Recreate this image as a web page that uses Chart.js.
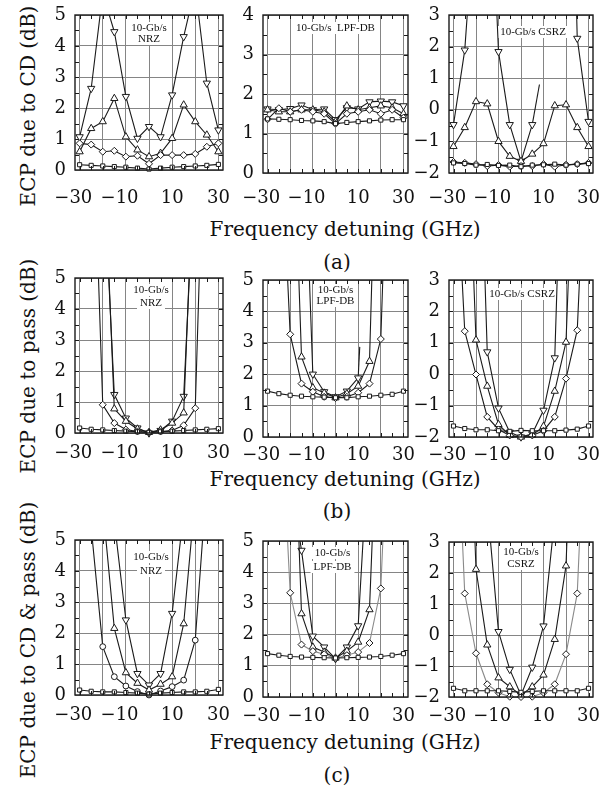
<!DOCTYPE html>
<html>
<head>
<meta charset="utf-8">
<script src="https://cdn.jsdelivr.net/npm/chart.js"></script>
<style>
  body { margin: 0; background: #fff; }
  #fig { position: relative; width: 616px; height: 800px; overflow: hidden; font-family: "DejaVu Serif", serif; color: #111; }
  #fig canvas { position: absolute; }
  .lab { position: absolute; white-space: nowrap; font-size: 20px; transform: translate(-50%, -50%); }
  .ylab { position: absolute; white-space: nowrap; font-size: 20px; transform: translate(-50%, -50%) rotate(-90deg); }
</style>
</head>
<body>
<div id="fig">
  <div class="ylab" style="left:28px;top:106px">ECP due to CD (dB)</div>
  <div class="ylab" style="left:28px;top:366px">ECP due to pass (dB)</div>
  <div class="ylab" style="left:28px;top:640px">ECP due to CD &amp; pass (dB)</div>
  <div class="lab" style="left:345px;top:229px">Frequency detuning (GHz)</div>
  <div class="lab" style="left:337px;top:262px">(a)</div>
  <div class="lab" style="left:345px;top:479px">Frequency detuning (GHz)</div>
  <div class="lab" style="left:337px;top:511px">(b)</div>
  <div class="lab" style="left:345px;top:742px">Frequency detuning (GHz)</div>
  <div class="lab" style="left:337px;top:775px">(c)</div>
</div>

<script>
  const freq = [-30, -25, -20, -15, -10, -5, 0, 5, 10, 15, 20, 25, 30];

  // (a) ECP due to CD
  const a1Sq = [0.17, 0.15, 0.13, 0.11, 0.09, 0.06, 0.03, 0.06, 0.09, 0.11, 0.13, 0.15, 0.18];
  const a1Di = [0.86, 0.82, 0.59, 0.62, 0.43, 0.46, 0.2, 0.48, 0.48, 0.48, 0.52, 0.75, 0.86];
  const a1Up = [0.59, 1.34, 1.56, 2.31, 1.07, 0.65, 0.43, 0.54, 1.02, 2.1, 1.56, 1.13, 0.59];
  const a1Dn = [1.07, 2.63, 5.7, 4.46, 2.37, 1.02, 1.4, 1.07, 2.42, 4.3, 5.9, 2.8, 1.29];

  const a2Sq = [1.37, 1.36, 1.35, 1.33, 1.32, 1.3, 1.25, 1.28, 1.3, 1.32, 1.34, 1.35, 1.35];
  const a2Di = [1.36, 1.64, 1.55, 1.6, 1.55, 1.5, 1.25, 1.5, 1.55, 1.6, 1.5, 1.6, 1.4];
  const a2Up = [1.6, 1.55, 1.55, 1.6, 1.6, 1.55, 1.3, 1.7, 1.6, 1.65, 1.7, 1.65, 1.5];
  const a2Dn = [1.62, 1.6, 1.63, 1.72, 1.6, 1.62, 1.35, 1.65, 1.62, 1.8, 1.82, 1.8, 1.7];

  const a3Sq = [-1.68, -1.7, -1.75, -1.73, -1.76, -1.75, -1.8, -1.75, -1.74, -1.72, -1.75, -1.72, -1.7];
  const a3Di = [-1.65, -1.68, -1.72, -1.78, -1.75, -1.8, -1.78, -1.78, -1.72, -1.8, -1.74, -1.72, -1.68];
  const a3Up = [-1.16, -0.56, 0.26, 0.19, -1.0, -1.47, -1.63, -1.4, -1.07, 0.13, 0.16, -0.56, -1.16];
  const a3Dn = [-0.47, 1.89, 6.9, 10.1, 1.84, -0.47, -1.63, -0.47, null, null, 16, 2.26, -0.37];
  const a3StubX = [5, 8.2];
  const a3StubY = [-0.47, 0.8];

  // (b) ECP due to pass
  const b1Sq = [0.16, 0.12, 0.1, 0.08, 0.06, 0.04, 0.02, 0.04, 0.06, 0.08, 0.1, 0.12, 0.14];
  const b1Di = [null, 12, 0.91, 0.32, 0.11, 0.05, 0.02, 0.05, 0.08, 0.25, 0.8, 13, null];
  const b1Up = [null, null, 10, 0.78, 0.38, 0.13, 0.02, 0.1, 0.32, 0.65, 10, null, null];
  const b1Dn = [null, null, 9, 1.24, 0.48, 0.16, 0.0, 0.08, 0.38, 1.18, 9, null, null];

  const b2Sq = [1.46, 1.38, 1.33, 1.3, 1.28, 1.27, 1.25, 1.25, 1.28, 1.3, 1.33, 1.36, 1.46];
  const b2Di = [null, 11, 3.27, 1.7, 1.44, 1.28, 1.24, 1.28, 1.41, 1.7, 3.12, 14, null];
  const b2Up = [null, null, 13, 2.55, 1.57, 1.4, 1.25, 1.38, 1.62, 2.41, 15, null, null];
  const b2Dn = [null, null, null, 12, 2.0, 1.44, 1.28, 1.46, 1.88, null, null, null, null];
  const b2StubX = [10, 10.7];
  const b2StubY = [1.88, 2.87];

  const b3Sq = [-1.65, -1.73, -1.77, -1.77, -1.8, -1.82, -1.79, -1.8, -1.8, -1.8, -1.78, -1.75, -1.65];
  const b3Di = [8.4, 1.37, -0.01, -1.36, -1.76, -1.95, -2.0, -1.95, -1.8, -1.36, -0.14, 1.4, 9.4];
  const b3Up = [null, 10.6, 1.09, -0.38, -1.6, -1.95, -2.0, -1.94, -1.66, -0.54, 1.02, 10.5, null];
  const b3Dn = [null, null, 12, 0.71, -1.08, -1.85, -2.0, -1.9, -1.15, 0.52, 12, null, null];

  // (c) ECP due to CD & pass
  const c1Sq = [0.16, 0.12, 0.1, 0.1, 0.08, 0.06, 0.03, 0.06, 0.08, 0.1, 0.1, 0.12, 0.18];
  const c1Ci = [null, 5.4, 1.56, 0.59, 0.29, 0.11, 0.0, 0.13, 0.27, 0.48, 1.77, 6.9, null];
  const c1Up = [null, null, 6.1, 2.15, 0.72, 0.38, 0.16, 0.35, 0.59, 2.3, 6.4, null, null];
  const c1Dn = [null, null, null, 5.6, 2.42, 0.69, 0.32, 0.69, 2.63, 5.9, null, null, null];

  const c2Sq = [1.39, 1.34, 1.3, 1.28, 1.27, 1.26, 1.25, 1.26, 1.27, 1.28, 1.3, 1.34, 1.39];
  const c2Di = [null, 10.6, 3.34, 1.68, 1.47, 1.37, 1.23, 1.34, 1.44, 1.73, 3.48, 12, null];
  const c2Up = [null, null, 12.8, 2.67, 1.6, 1.44, 1.25, 1.47, 1.76, 2.8, 12, null, null];
  const c2Dn = [null, null, 7, 4.7, 1.95, 1.6, 1.23, 1.6, 2.28, 8.6, null, null, null];

  const c3Sq = [-1.72, -1.8, -1.8, -1.8, -1.8, -1.82, -1.85, -1.82, -1.8, -1.8, -1.8, -1.8, -1.72];
  const c3Di = [9.6, 1.34, -0.59, -1.59, -1.86, -1.99, -2.0, -1.99, -1.86, -1.59, -0.62, 1.34, 9.6];
  const c3Up = [null, 12, 2.12, -0.32, -1.38, -1.67, -1.94, -1.67, -1.29, -0.14, 2.23, 12, null];
  const c3Dn = [null, null, null, 4.2, 0.11, -1.11, -1.94, -1.04, 0.29, 3.8, null, null, null];

  // canvas margins around each plot area
  const PL = 50, PR = 16, PT = 12, PB = 46;
  const INK = '#1a1a1a';

  const markers = {
    sq: { pointStyle: 'rect', pointRadius: 2.9 },
    di: { pointStyle: 'rectRot', pointRadius: 3.5 },
    ci: { pointStyle: 'circle', pointRadius: 2.9 },
    up: { pointStyle: 'triangle', pointRadius: 4.2 },
    dn: { pointStyle: 'triangle', pointRadius: 4.2, pointRotation: 180 },
  };

  function series(vals, kind, line) {
    return Object.assign({
      data: vals.map((v, i) => ({ x: freq[i], y: v })),
      borderColor: line || INK,
      borderWidth: 1.1,
      pointBackgroundColor: '#fff',
      pointBorderColor: INK,
      pointBorderWidth: 1,
      spanGaps: false,
      clip: { left: 6, right: 6, top: 0, bottom: 6 },
    }, markers[kind]);
  }

  function stub(xs, ys) {
    return {
      data: xs.map((x, i) => ({ x: x, y: ys[i] })),
      borderColor: INK,
      borderWidth: 1.1,
      pointRadius: 0,
      clip: 0,
    };
  }

  const panels = [
    { box: [75, 15, 148, 155], y: [0, 5], xp: 18, sets: [series(a1Sq, 'sq'), series(a1Di, 'di'), series(a1Up, 'up'), series(a1Dn, 'dn')],
      tag: ['10-Gb/s', 'NRZ'], tx: 0, ty: [13, 24] },
    { box: [263, 15, 145, 158], y: [0, 4], xp: 15, sets: [series(a2Sq, 'sq'), series(a2Di, 'di'), series(a2Up, 'up'), series(a2Dn, 'dn')],
      tag: ['10-Gb/s  LPF-DB'], tx: 0, ty: [13] },
    { box: [449, 15, 144, 158], y: [-2, 3], xp: 15, sets: [series(a3Sq, 'sq'), series(a3Di, 'di'), series(a3Up, 'up'), series(a3Dn, 'dn'), stub(a3StubX, a3StubY)],
      tag: ['10-Gb/s CSRZ'], tx: 12, ty: [17] },
    { box: [75, 278, 148, 155], y: [0, 5], xp: 10, sets: [series(b1Sq, 'sq'), series(b1Di, 'di'), series(b1Up, 'up'), series(b1Dn, 'dn')],
      tag: ['10-Gb/s', 'NRZ'], tx: 2, ty: [12, 25] },
    { box: [263, 280, 145, 157], y: [0, 5], xp: 8, sets: [series(b2Sq, 'sq'), series(b2Di, 'di'), series(b2Up, 'up'), series(b2Dn, 'dn'), stub(b2StubX, b2StubY)],
      tag: ['10-Gb/s', 'LPF-DB'], tx: 0, ty: [10, 21] },
    { box: [449, 280, 144, 157], y: [-2, 3], xp: 8, sets: [series(b3Sq, 'sq'), series(b3Di, 'di'), series(b3Up, 'up'), series(b3Dn, 'dn')],
      tag: ['10-Gb/s CSRZ'], tx: 1, ty: [14] },
    { box: [75, 540, 148, 155], y: [0, 5], xp: 10, sets: [series(c1Sq, 'sq'), series(c1Ci, 'ci'), series(c1Up, 'up'), series(c1Dn, 'dn')],
      tag: ['10-Gb/s', 'NRZ'], tx: 2, ty: [17, 31] },
    { box: [263, 541, 145, 156], y: [0, 5], xp: 9, sets: [series(c2Sq, 'sq'), series(c2Di, 'di', '#8a8a8a'), series(c2Up, 'up'), series(c2Dn, 'dn')],
      tag: ['10-Gb/s', 'LPF-DB'], tx: -3, ty: [12, 26] },
    { box: [449, 542, 144, 155], y: [-2, 3], xp: 9, sets: [series(c3Sq, 'sq'), series(c3Di, 'di', '#8a8a8a'), series(c3Up, 'up'), series(c3Dn, 'dn')],
      tag: ['10-Gb/s', 'CSRZ'], tx: 0, ty: [10, 22] },
  ];

  const minus = v => (v < 0 ? '\u2212' + Math.abs(v) : String(v));

  // white-boxed tag, frame and inward minor ticks
  const framePlugin = {
    id: 'frame',
    beforeDatasetsDraw(chart, args, o) {
      const { ctx, chartArea: a } = chart;
      ctx.save();
      ctx.font = '11px "Liberation Serif", serif';
      ctx.textAlign = 'center';
      ctx.textBaseline = 'middle';
      const cx = (a.left + a.right) / 2 + o.tx;
      o.tag.forEach((t, i) => {
        const w = ctx.measureText(t).width;
        ctx.fillStyle = '#fff';
        ctx.fillRect(cx - w / 2 - 3, a.top + o.ty[i] - 6, w + 6, 12);
      });
      ctx.fillStyle = '#111';
      o.tag.forEach((t, i) => ctx.fillText(t, cx, a.top + o.ty[i]));
      ctx.restore();
    },
    afterDraw(chart) {
      const { ctx, chartArea: a, scales: { x, y } } = chart;
      ctx.save();
      ctx.strokeStyle = INK;
      ctx.lineWidth = 1;
      ctx.beginPath();
      for (let v = -30; v <= 30; v += 5) {
        const px = Math.round(x.getPixelForValue(v)) + 0.5;
        ctx.moveTo(px, a.bottom); ctx.lineTo(px, a.bottom - 4);
        ctx.moveTo(px, a.top); ctx.lineTo(px, a.top + 4);
      }
      for (let v = y.min + 0.5; v < y.max; v += 0.5) {
        const py = Math.round(y.getPixelForValue(v)) + 0.5;
        ctx.moveTo(a.left, py); ctx.lineTo(a.left + 4, py);
        ctx.moveTo(a.right, py); ctx.lineTo(a.right - 4, py);
      }
      ctx.stroke();
      ctx.lineWidth = 1.4;
      ctx.strokeRect(a.left, a.top, a.right - a.left, a.bottom - a.top);
      ctx.restore();
    },
  };

  const fig = document.getElementById('fig');

  panels.forEach(p => {
    const [left, top, w, h] = p.box;
    const cv = document.createElement('canvas');
    cv.width = PL + w + PR;
    cv.height = PT + h + PB;
    cv.style.left = (left - PL) + 'px';
    cv.style.top = (top - PT) + 'px';
    fig.appendChild(cv);

    new Chart(cv, {
      type: 'line',
      data: { datasets: p.sets },
      plugins: [framePlugin],
      options: {
        responsive: false,
        animation: false,
        devicePixelRatio: 1,
        layout: { padding: { left: 0, top: PT, right: PR, bottom: 0 } },
        plugins: {
          legend: { display: false },
          tooltip: { enabled: false },
          frame: { tag: p.tag, tx: p.tx, ty: p.ty },
        },
        scales: {
          x: {
            type: 'linear',
            min: -32,
            max: 32,
            afterFit(s) { s.height = PB; s.paddingLeft = 0; s.paddingRight = 0; },
            grid: { color: '#858585', lineWidth: 1, drawTicks: false },
            border: { display: false },
            ticks: {
              stepSize: 10,
              includeBounds: false,
              autoSkip: false,
              maxRotation: 0,
              padding: p.xp,
              color: '#111',
              font: { family: 'DejaVu Serif', size: 18 },
              callback: v => (Math.abs(v) === 10 || Math.abs(v) === 30) ? (v < 0 ? minus(v) + '\u2002\u2009' : String(v)) : '',
            },
          },
          y: {
            min: p.y[0],
            max: p.y[1],
            afterFit(s) { s.width = PL; s.paddingTop = 0; s.paddingBottom = 0; },
            grid: { color: '#858585', lineWidth: 1, drawTicks: false },
            border: { display: false },
            ticks: {
              stepSize: 1,
              padding: 9,
              color: '#111',
              font: { family: 'DejaVu Serif', size: 18 },
              callback: v => minus(v),
            },
          },
        },
      },
    });
  });
</script>
</body>
</html>
